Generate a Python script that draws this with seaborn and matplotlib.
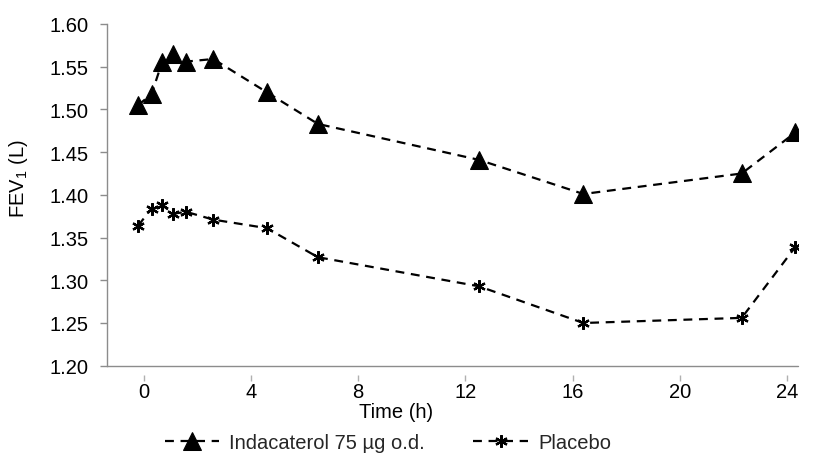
import numpy as np
import pandas as pd
import matplotlib
matplotlib.use("Agg")
import matplotlib.pyplot as plt
import seaborn as sns

# values
time_inda = [-0.2, 0.3, 0.7, 1.1, 1.6, 2.6, 4.6, 6.5, 12.5, 16.4, 22.3, 24.3]
fev_inda = [1.505, 1.518, 1.556, 1.565, 1.556, 1.559, 1.520, 1.483, 1.441, 1.401, 1.425, 1.473]

time_plac = [-0.2, 0.3, 0.7, 1.1, 1.6, 2.6, 4.6, 6.5, 12.5, 16.4, 22.3, 24.3]
fev_plac = [1.364, 1.384, 1.388, 1.378, 1.380, 1.371, 1.361, 1.327, 1.293, 1.250, 1.256, 1.339]

x_ticks = [0, 4, 8, 12, 16, 20, 24]
y_ticks = [1.20, 1.25, 1.30, 1.35, 1.40, 1.45, 1.50, 1.55, 1.60]
labels = ["Indacaterol 75 \u00b5g o.d.", "Placebo"]

sns.set_theme(style="white")
plt.rcParams["font.family"] = ["Liberation Sans", "DejaVu Sans"]
plt.rcParams["mathtext.default"] = "regular"

fs = 14.5
axis_grey = "#8c8c8c"

fig = plt.figure(figsize=(8.15, 4.6), dpi=100)
ax = fig.add_axes([0.1307, 0.2028, 0.8485, 0.7429])

sns.lineplot(x=time_inda, y=fev_inda, ax=ax, color="black", marker="^",
			 markersize=13.5, markeredgecolor="black", markerfacecolor="black",
			 linewidth=1.6, linestyle=(0, (4, 3)), label=labels[0])
sns.lineplot(x=time_plac, y=fev_plac, ax=ax, color="black", marker=(6, 2, 0),
			 markersize=9, markeredgecolor="black", markeredgewidth=1.6,
			 linewidth=1.6, linestyle=(0, (4, 3)), label=labels[1])

ax.set_xlim(-1.38, 24.4)
ax.set_ylim(1.20, 1.60)
ax.set_yticks(y_ticks)
ax.set_yticklabels(["%.2f" % v for v in y_ticks])
ax.set_xticks(x_ticks)
ax.set_xticklabels([str(t) for t in x_ticks])
for lab in ax.get_xticklabels():
	lab.set_horizontalalignment("left")

sns.despine(ax=ax)
ax.spines["left"].set_color(axis_grey)
ax.spines["left"].set_linewidth(1.0)
# x ticks sit a little below the axis line, like the original
ax.spines["bottom"].set_position(("outward", 7))
ax.spines["bottom"].set_color("none")
ax.axhline(1.20, color=axis_grey, linewidth=1.0, clip_on=False)

ax.tick_params(axis="y", which="major", direction="out", length=5, width=1,
			   color=axis_grey, labelsize=fs, labelcolor="black", pad=8, left=True)
ax.tick_params(axis="x", which="major", direction="out", length=4, width=1,
			   color="#b0b0b0", labelsize=fs, labelcolor="black", pad=1, bottom=True)

ax.set_ylabel("FEV$_1$ (L)", fontsize=fs, color="black")
ax.yaxis.set_label_coords(-0.11, 0.55)
ax.set_xlabel("Time (h)", fontsize=fs, color="black")
ax.xaxis.set_label_coords(0.419, -0.107)

handles, labs = ax.get_legend_handles_labels()
ax.get_legend().remove()
fig.legend(handles, labs, loc="center", bbox_to_anchor=(0.476, 0.036), ncol=2,
		   frameon=False, fontsize=fs, handlelength=2.7, handletextpad=0.5,
		   columnspacing=2.4, borderaxespad=0)

fig.savefig("out.png", dpi=100)
